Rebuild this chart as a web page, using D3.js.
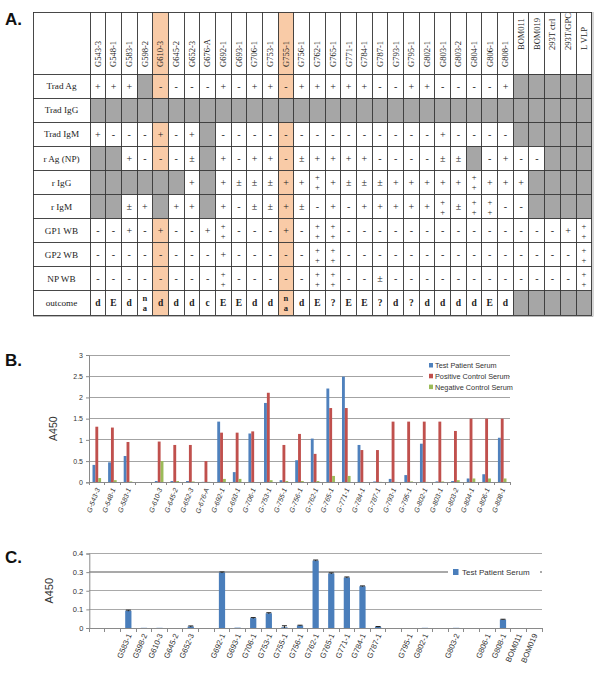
<!DOCTYPE html>
<html><head><meta charset="utf-8">
<script src="https://cdn.jsdelivr.net/npm/d3@7"></script>
<style>body{margin:0;background:#fff}svg{display:block}</style>
</head><body>
<svg id="fig" width="600" height="677"></svg>
<script>
// ---------- Panel A: table ----------
const columns = ["G543-3","G548-1","G583-1","G598-2","G610-3","G645-2","G652-3","G676-A","G692-1","G693-1","G706-1","G753-1","G755-1","G756-1","G762-1","G765-1","G771-1","G784-1","G787-1","G793-1","G795-1","G802-1","G803-1","G803-2","G804-1","G806-1","G808-1","BOM011","BOM019","293T ctrl","293T/GPC","L VLP"];
const highlighted = ["G610-3","G755-1"];
const rowLabels = ["Trad Ag","Trad IgG","Trad IgM","r Ag (NP)","r IgG","r IgM","GP1 WB","GP2 WB","NP WB","outcome"];
// "#" = grey (not done)
const tradAg  = ["+","+","+","#","-","-","-","-","+","-","+","+","-","+","+","+","+","+","-","-","+","+","-","-","-","-","+","#","#","#","#","#"];
const tradIgG = ["#","#","#","#","#","#","#","#","#","#","#","#","#","#","#","#","#","#","#","#","#","#","#","#","#","#","#","#","#","#","#","#"];
const tradIgM = ["+","-","-","-","+","-","+","#","-","-","-","-","-","-","-","-","-","-","-","-","-","-","+","-","-","-","-","#","#","#","#","#"];
const rAgNP   = ["#","#","+","-","-","-","±","#","+","-","+","+","-","±","+","+","+","+","-","-","-","-","±","±","#","-","+","-","-","#","#","#"];
const rIgG    = ["#","#","#","#","#","#","+","#","+","±","±","±","+","+","++","+","±","±","±","+","+","+","+","+","++","+","+","+","#","#","#","#"];
const rIgM    = ["#","#","±","+","#","+","+","#","+","-","±","±","+","±","-","+","-","+","+","+","+","+","++","±","++","++","-","-","#","#","#","#"];
const gp1WB   = ["-","-","+","-","+","-","-","+","++","-","-","-","+","-","++","++","-","-","-","-","-","-","-","-","-","-","-","-","-","-","+","++"];
const gp2WB   = ["-","-","-","-","-","-","-","-","+","-","-","-","-","-","++","++","-","-","-","-","-","-","-","-","-","-","-","-","-","-","-","++"];
const npWB    = ["-","-","-","-","-","-","-","-","++","-","-","-","-","-","++","++","-","-","±","-","-","-","-","-","-","-","-","-","-","-","-","++"];
const outcome = ["d","E","d","na","d","d","d","c","E","E","d","d","na","d","E","?","E","E","?","d","?","d","d","d","d","E","d","#","#","#","#","#"];
const tableRows = [tradAg,tradIgG,tradIgM,rAgNP,rIgG,rIgM,gp1WB,gp2WB,npWB,outcome];

// ---------- Panel B ----------
const categoriesB = ["G-543-3","G-548-1","G-583-1","","G-610-3","G-645-2","G-652-3","G-676-A","G-692-1","G-693-1","G-706-1","G-753-1","G-755-1","G-756-1","G-762-1","G-765-1","G-771-1","G-784-1","G-787-1","G-793-1","G-795-1","G-802-1","G-803-1","G-803-2","G-804-1","G-806-1","G-808-1"];
const seriesB = ["Test Patient Serum","Positive Control Serum","Negative Control Serum"];
const testB = [0.41,0.47,0.62,null,0.03,0.03,0.03,0.01,1.43,0.24,1.15,1.87,0.05,0.52,1.03,2.21,2.49,0.88,0.02,0.08,0.17,0.91,0.02,0.03,0.09,0.19,1.05];
const posB  = [1.31,1.29,0.95,null,0.96,0.88,0.88,0.50,1.17,1.17,1.20,2.11,0.88,1.14,0.67,1.75,1.75,0.76,0.76,1.43,1.43,1.43,1.43,1.21,1.50,1.50,1.50];
const negB  = [0.10,0.05,0.02,null,0.50,0.03,0.02,0.01,0.08,0.08,0.00,0.05,0.03,0.03,0.03,0.15,0.15,0.00,0.01,0.01,0.02,0.01,0.02,0.05,0.09,0.09,0.09];
const ticksB = [0,0.5,1,1.5,2,2.5,3];

// ---------- Panel C ----------
const categoriesC = ["","","G583-1","G598-2","G610-3","G645-2","G652-3","","G692-1","G693-1","G706-1","G753-1","G755-1","G756-1","G762-1","G765-1","G771-1","G784-1","G787-1","","G795-1","G802-1","","G803-2","","G806-1","G808-1","BOM011","BOM019"];
const testC = [null,null,0.093,0.001,0.001,0,0.008,null,0.298,0.002,0.053,0.079,0.004,0.013,0.362,0.293,0.271,0.224,0.006,null,0,0.001,null,0.001,null,0,0.045,0,0];
const errC  = [null,null,0.003,0,0,0,0.003,null,0.003,0,0.003,0.003,0.008,0.002,0.003,0.003,0.003,0.002,0.002,null,0,0,null,0,null,0,0.002,0,0];
const ticksC = [0,0.1,0.2,0.3,0.4];

const svg = d3.select("#fig");
svg.append("rect").attr("width",600).attr("height",677).attr("fill","#fff");

const panelFont = "Liberation Sans, Arial, sans-serif";
const serif = "Liberation Serif, Times New Roman, serif";
[["A.",25],["B.",366],["C.",563]].forEach(([t,y])=>{
  svg.append("text").attr("x",5).attr("y",y).text(t)
    .attr("font-family",panelFont).attr("font-weight","bold").attr("font-size",17).attr("fill","#111");
});

// ===== Table =====
(function(){
  const x0 = 33, labW = 57, top = 12, headH = 62, rowH = 24.1;
  const colX = d3.scaleBand().domain(columns).range([x0+labW, 591.7]);
  const rowY = d3.scaleBand().domain(rowLabels).range([top+headH, top+headH+rowH*rowLabels.length]);
  const g = svg.append("g");
  const ORANGE = "#F9CBA7", GREY = "#A6A6A6", LINE = "#333";
  const bottom = rowY.range()[1];
  columns.forEach(c=>{
    g.append("rect").attr("x",colX(c)).attr("y",top).attr("width",colX.bandwidth()).attr("height",headH)
      .attr("fill", highlighted.includes(c)?ORANGE:"#fff");
  });
  tableRows.forEach((vals,ri)=>{
    const r = rowLabels[ri];
    const y = rowY(r), h = rowY.bandwidth();
    columns.forEach((c,ci)=>{
      const v = vals[ci];
      g.append("rect").attr("x",colX(c)).attr("y",y).attr("width",colX.bandwidth()).attr("height",h)
        .attr("fill", v==="#"?GREY:(highlighted.includes(c)?ORANGE:"#fff"));
      if(v==="#") return;
      const cx = colX(c)+colX.bandwidth()/2, cy = y+h/2;
      const bold = r==="outcome";
      let parts;
      if(v==="++") parts=["+","+"]; else if(v==="na") parts=["n","a"]; else parts=[v];
      const two = parts.length===2;
      parts.forEach((p,pi)=>{
        const off = two ? (pi===0?-5:5) : 0;
        g.append("text").attr("x",cx).attr("y",cy+off).attr("dy","0.35em")
          .attr("text-anchor","middle").attr("font-family",serif)
          .attr("font-size", two?8.5:(bold?9.5:10)).attr("font-weight",bold?"bold":"normal")
          .attr("fill","#222").text(p);
      });
    });
    g.append("text").attr("x",x0+labW/2).attr("y",y+h/2).attr("dy","0.35em")
      .attr("text-anchor","middle").attr("font-family",serif).attr("font-size",9.2).attr("fill","#222").text(r);
  });
  columns.forEach(c=>{
    const cx = colX(c)+colX.bandwidth()/2;
    const yb = c.startsWith("G") ? 67 : 50;
    g.append("text").attr("transform",`translate(${cx},${yb}) rotate(-90)`).attr("dy","0.33em")
      .attr("font-family",serif).attr("font-size",8.5).attr("fill","#222").text(c);
  });
  const lines = g.append("g").attr("stroke",LINE).attr("stroke-width",0.9).attr("shape-rendering","crispEdges");
  [top, ...rowLabels.map(r=>rowY(r)), bottom].forEach(y=>{
    lines.append("line").attr("x1",x0).attr("x2",591.7).attr("y1",y).attr("y2",y);
  });
  [x0, ...columns.map(c=>colX(c)), 591.7].forEach(x=>{
    lines.append("line").attr("x1",x).attr("x2",x).attr("y1",top).attr("y2",bottom);
  });
  g.append("line").attr("x1",x0).attr("x2",593).attr("y1",bottom+1.5).attr("y2",bottom+1.5).attr("stroke","#bbb").attr("stroke-width",1.2);
  g.append("line").attr("x1",593).attr("x2",593).attr("y1",top).attr("y2",bottom+1.5).attr("stroke","#bbb").attr("stroke-width",1.2);
})();

// ===== Panel B =====
(function(){
  const left = 89, right = 510, y0 = 482.3, y3 = 355;
  const idx = d3.range(categoriesB.length);
  const x = d3.scaleBand().domain(idx).range([left,right]).paddingInner(0.45).paddingOuter(0.225);
  const step = x.step();
  const xs = d3.scaleBand().domain(seriesB).range([0,x.bandwidth()]);
  const y = d3.scaleLinear().domain([0,3]).range([y0,y3]);
  const colors = d3.scaleOrdinal().domain(seriesB).range(["#4F81BD","#C0504D","#9BBB59"]);
  const g = svg.append("g");
  const axisFont = panelFont;
  g.append("g").selectAll("line").data(ticksB.filter(t=>t>0)).join("line")
    .attr("x1",left).attr("x2",right).attr("y1",d=>y(d)).attr("y2",d=>y(d))
    .attr("stroke","#a3a3a3").attr("stroke-width",1).attr("shape-rendering","crispEdges");
  const ya = d3.axisLeft(y).tickValues(ticksB).tickSize(3).tickFormat(d3.format("~g"));
  const yg = g.append("g").attr("transform",`translate(${left},0)`).call(ya);
  yg.select(".domain").attr("stroke","#8a8a8a");
  yg.selectAll(".tick line").attr("stroke","#8a8a8a");
  yg.selectAll("text").attr("font-family",axisFont).attr("font-size",7).attr("fill","#333");
  g.append("text").attr("transform",`translate(57,${(y0+y3)/2+10}) rotate(-90)`).attr("text-anchor","middle")
    .attr("font-family",axisFont).attr("font-size",10.5).attr("fill","#333").text("A450");
  const data = [testB,posB,negB];
  seriesB.forEach((s,si)=>{
    g.append("g").selectAll("rect").data(idx.filter(i=>data[si][i]!==null)).join("rect")
      .attr("x",i=>x(i)+xs(s)).attr("width",xs.bandwidth())
      .attr("y",i=>y(Math.max(0,data[si][i]))).attr("height",i=>Math.abs(y(0)-y(data[si][i])))
      .attr("fill",colors(s));
  });
  g.append("line").attr("x1",left).attr("x2",right).attr("y1",y0).attr("y2",y0).attr("stroke","#8a8a8a").attr("shape-rendering","crispEdges");
  g.append("g").selectAll("line").data(d3.range(categoriesB.length+1)).join("line")
    .attr("x1",i=>left+i*step).attr("x2",i=>left+i*step).attr("y1",y0).attr("y2",y0+3)
    .attr("stroke","#8a8a8a").attr("shape-rendering","crispEdges");
  g.append("g").selectAll("text").data(idx).join("text")
    .attr("transform",i=>`translate(${x(i)+x.bandwidth()/2+1},${y0+6}) rotate(-69)`)
    .attr("text-anchor","end").attr("dy","0.35em")
    .attr("font-family",axisFont).attr("font-size",7).attr("font-style","italic").attr("fill","#333")
    .text(i=>categoriesB[i]);
  const lg = g.append("g");
  lg.append("rect").attr("x",423).attr("y",358).attr("width",86).attr("height",35).attr("fill","#fff");
  seriesB.forEach((s,i)=>{
    const yy = 365.5 + i*10.8;
    lg.append("rect").attr("x",429).attr("y",yy-2.5).attr("width",4).attr("height",4.5).attr("fill",colors(s));
    lg.append("text").attr("x",435).attr("y",yy).attr("dy","0.35em")
      .attr("font-family",axisFont).attr("font-size",7.3).attr("fill","#333").text(s);
  });
})();

// ===== Panel C =====
(function(){
  const left = 89.3, right = 542, y0 = 628, y4 = 553.5;
  const idx = d3.range(categoriesC.length);
  const x = d3.scaleBand().domain(idx).range([left,right]).paddingInner(0.6).paddingOuter(0.3);
  const step = x.step();
  const y = d3.scaleLinear().domain([0,0.4]).range([y0,y4]);
  const g = svg.append("g");
  const axisFont = panelFont;
  g.append("g").selectAll("line").data(ticksC.filter(t=>t>0)).join("line")
    .attr("x1",left).attr("x2",right).attr("y1",d=>y(d)).attr("y2",d=>y(d))
    .attr("stroke","#a9a9a9").attr("stroke-width",1.3).attr("shape-rendering","crispEdges");
  const ya = d3.axisLeft(y).tickValues(ticksC).tickSize(3).tickFormat(d3.format("~g"));
  const yg = g.append("g").attr("transform",`translate(${left},0)`).call(ya);
  yg.select(".domain").attr("stroke","#8a8a8a");
  yg.selectAll(".tick line").attr("stroke","#8a8a8a");
  yg.selectAll("text").attr("font-family",axisFont).attr("font-size",7.5).attr("fill","#333");
  g.append("text").attr("transform",`translate(53,${(y0+y4)/2}) rotate(-90)`).attr("text-anchor","middle")
    .attr("font-family",axisFont).attr("font-size",11).attr("fill","#333").text("A450");
  const valid = idx.filter(i=>testC[i]!==null);
  g.append("g").selectAll("rect").data(valid).join("rect")
    .attr("x",i=>x(i)).attr("width",x.bandwidth())
    .attr("y",i=>y(testC[i])).attr("height",i=>y(0)-y(testC[i]))
    .attr("fill","#4A7EBB");
  const eb = g.append("g").attr("stroke","#222").attr("stroke-width",1);
  valid.filter(i=>errC[i]>0).forEach(i=>{
    const cx = x(i)+x.bandwidth()/2;
    eb.append("line").attr("x1",cx).attr("x2",cx).attr("y1",y(Math.max(0,testC[i]-errC[i]))).attr("y2",y(testC[i]+errC[i]));
    eb.append("line").attr("x1",cx-2.5).attr("x2",cx+2.5).attr("y1",y(testC[i]+errC[i])).attr("y2",y(testC[i]+errC[i]));
  });
  g.append("line").attr("x1",left).attr("x2",right).attr("y1",y0).attr("y2",y0).attr("stroke","#8a8a8a").attr("shape-rendering","crispEdges");
  g.append("g").selectAll("line").data(d3.range(categoriesC.length+1)).join("line")
    .attr("x1",i=>left+i*step).attr("x2",i=>left+i*step).attr("y1",y0).attr("y2",y0+3.5)
    .attr("stroke","#8a8a8a").attr("shape-rendering","crispEdges");
  g.append("g").selectAll("text").data(idx).join("text")
    .attr("transform",i=>`translate(${x(i)+x.bandwidth()/2+1},${y0+6}) rotate(-67)`)
    .attr("text-anchor","end").attr("dy","0.35em")
    .attr("font-family",axisFont).attr("font-size",7.8).attr("fill","#333")
    .text(i=>categoriesC[i]);
  const lg = g.append("g");
  lg.append("rect").attr("x",448).attr("y",565).attr("width",92).attr("height",14).attr("fill","#fff");
  lg.append("rect").attr("x",453).attr("y",569).attr("width",5.5).attr("height",6).attr("fill","#4A7EBB");
  lg.append("text").attr("x",462).attr("y",572).attr("dy","0.35em")
    .attr("font-family",axisFont).attr("font-size",8).attr("fill","#333").text("Test Patient Serum");
})();
</script>
</body></html>
